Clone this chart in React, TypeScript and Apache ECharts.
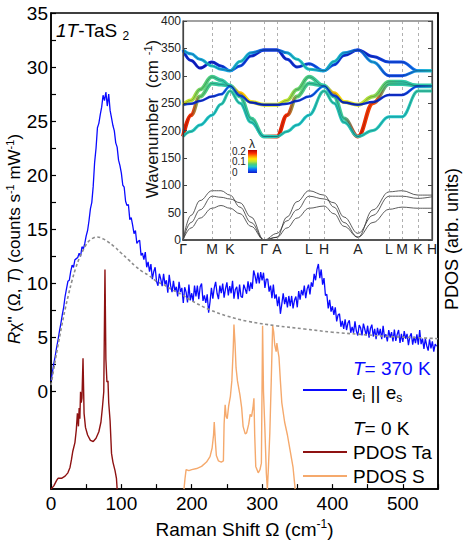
import React, { useEffect, useRef } from "react";
import * as echarts from "echarts";

// ---------- main panel data ----------
const RAMAN_SHIFT = [
  0,2,4,6,8,10,12,14,16,18, 20,22,24,26,28,30,32,34,36,38,
  40,42,44,46,48,50,52,54,56,58, 60,62,64,66,68,70,72,74,76,78,
  80,82,84,86,88,90,92,94,96,98, 100,102,104,106,108,110,112,114,116,118,
  120,122,124,126,128,130,132,134,136,138, 140,142,144,146,148,150,152,154,156,158,
  160,162,164,166,168,170,172,174,176,178, 180,182,184,186,188,190,192,194,196,198,
  200,202,204,206,208,210,212,214,216,218, 220,222,224,226,228,230,232,234,236,238,
  240,242,244,246,248,250,252,254,256,258, 260,262,264,266,268,270,272,274,276,278,
  280,282,284,286,288,290,292,294,296,298, 300,302,304,306,308,310,312,314,316,318,
  320,322,324,326,328,330,332,334,336,338, 340,342,344,346,348,350,352,354,356,358,
  360,362,364,366,368,370,372,374,376,378, 380,382,384,386,388,390,392,394,396,398,
  400,402,404,406,408,410,412,414,416,418, 420,422,424,426,428,430,432,434,436,438,
  440,442,444,446,448,450,452,454,456,458, 460,462,464,466,468,470,472,474,476,478,
  480,482,484,486,488,490,492,494,496,498, 500,502,504,506,508,510,512,514,516,518,
  520,522,524,526,528,530,532,534,536,538, 540,542,544,546,548,
];
const RAMAN_INTENSITY = [
  1.0,1.8,2.6,3.3,4.1,4.8,5.6,6.3,7.1,7.8, 8.8,9.5,10.2,10.3,11.1,11.7,11.5,12.2,12.3,12.4,
  12.8,12.5,13.4,13.2,13.7,14.4,14.9,15.8,16.9,17.5, 19.0,21.2,22.5,24.4,24.8,25.6,26.3,27.4,26.9,27.7,
  26.4,27.5,26.0,25.3,24.6,24.1,23.0,22.6,21.4,20.9, 20.2,19.1,18.9,17.6,17.2,17.3,15.9,16.1,15.4,14.6,
  14.9,13.7,13.9,14.0,12.6,12.8,12.2,12.9,11.5,12.0, 11.1,11.8,10.4,11.1,11.5,10.2,9.8,10.9,10.4,9.75,
  10.9,9.9,10.3,9.15,10.8,9.8,9.2,10.25,9.3,9.7, 8.8,10.15,9.2,9.6,8.2,9.65,9.2,8.25,9.9,8.45,
  9.1,8.35,9.8,8.8,9.8,8.55,9.7,10.0,8.4,8.9, 8.2,9.0,7.3,8.3,9.6,8.6,9.6,10.15,9.1,8.55,
  9.8,9.1,10.0,8.7,9.5,10.1,8.9,9.75,9.1,10.25, 8.6,9.45,9.7,8.55,9.9,8.8,8.7,9.9,9.5,9.05,
  10.2,9.3,10.1,9.5,11.2,10.7,10.0,11.0,10.0,11.05, 10.3,11.0,9.6,10.4,10.4,9.25,9.8,8.65,9.9,8.6,
  9.0,7.9,8.8,7.2,8.1,9.1,8.1,8.75,7.8,8.85, 7.9,8.85,7.7,8.45,8.8,7.8,9.3,8.5,9.4,8.9,
  9.8,8.65,9.5,9.9,9.0,10.1,9.7,10.9,10.3,11.3, 11.8,10.5,11.3,9.9,10.5,8.9,9.0,7.7,8.5,7.4,
  7.9,7.1,7.8,6.5,7.1,7.2,6.0,6.55,5.8,6.7, 5.7,6.35,6.6,5.45,6.0,5.45,6.5,5.6,5.2,6.15,
  5.9,5.2,6.3,5.75,5.2,6.1,5.0,5.85,6.2,5.1, 5.8,4.85,5.9,5.2,5.8,4.85,6.1,5.0,5.3,4.65,
  5.7,5.0,5.5,4.65,5.75,4.7,5.3,5.7,4.5,5.35, 4.6,5.6,4.9,5.35,4.3,5.1,5.4,4.35,5.1,4.5,
  5.3,4.35,5.7,4.4,4.9,3.95,4.9,4.25,3.8,4.85, 4.0,4.65,3.7,4.4,4.2,
];

const BG_SHIFT = [0,5,10,15,20,25,30,35,40,45,50,55,60,65,70,75,80,90,100,110,120,130,140,150,160,170,185,200,225,250,280,320,360,400,440,480,520,550];
const BG_INTENSITY = [0.6,2.5,4.3,6.0,7.6,9.0,10.3,11.4,12.3,13.0,13.6,14.0,14.2,14.3,14.25,14.1,13.9,13.4,12.8,12.2,11.6,11.1,10.7,10.2,9.9,9.5,9.0,8.4,7.6,7.0,6.5,6.1,5.8,5.5,5.3,5.1,5.0,4.9];

// PDOS in arbitrary units (right axis)
const TA_SHIFT = [0,4,8,10,15,20,24,27,29,31,34,36,37.5,39,40,41,42,43,44,45.5,47,49,52,56,60,64,68,71,73,75,76.7,78,79.5,81,82,84,86,88,91,93,94];
const TA_PDOS = [0,0.3,0.8,1.0,1.0,1.2,1.5,2.0,2.7,3.5,4.3,5.5,7.0,5.8,7.5,6.5,9.0,8.0,8.4,12.1,7.0,5.7,5.0,4.5,4.4,4.7,5.3,6.2,7.5,9.0,20.3,12.0,9.9,10.0,8.0,6.3,3.3,2.5,1.7,1.0,0];
const S_SHIFT = [189,190.5,192,196,200,207,214,221,226,229,231,232,233.5,235,238,242,245,246,247.5,249,250.5,252.5,255,257,259,260,261.5,263,265,268.5,271,273,276,278,281,283,285,287,288.4,289.5,291,294.5,297,299,300.7,302,304,306,307.5,309,311,313,315,316.5,318,320,321,322.5,324,326,328,332,336,340,344,347];
const S_PDOS = [0,1.0,1.8,1.7,1.8,1.9,2.1,2.5,3.0,3.8,5.0,6.2,4.5,3.1,2.6,2.5,2.6,6.0,7.8,6.7,6.5,7.7,8.6,10.0,13.0,15.2,13.5,11.2,10.0,8.7,7.5,5.8,5.1,5.2,6.0,6.9,6.7,7.5,8.4,5.0,2.1,1.5,1.8,2.4,15.1,9.0,5.5,1.5,0.0,2.0,5.2,10.0,15.1,14.5,13.3,12.7,13.5,12.8,12.2,10.0,8.0,6.2,5.0,3.5,2.0,0.0];

const X_LABELS = [0,100,200,300,400,500];
const X_TICKS = [0,50,100,150,200,250,300,350,400,450,500,550];
const Y_LABELS = [0,5,10,15,20,25,30,35];
const Y_TICKS = [0,2.5,5,7.5,10,12.5,15,17.5,20,22.5,25,27.5,30,32.5,35];

// ---------- inset: phonon dispersion ----------
const K_POS = [0,29,47,81,94,126,141,175,206,219,235,249];
const K_LABELS = ["Γ","M","K","Γ","A","L","H","A","L","M","K","H"];
const BAND_X = [0,8,17,29,38,47,57,68,81,94,104,114,126,141,151,161,175,190,206,219,235,249];

const BAND_TOP_BLUE = [347,328,314,325,318,309,318,336,347,347,330,316,322,309,320,337,347,335,325,325,309,309];
const BAND_TOP_CYAN = [347,340,330,318,312,309,326,342,347,347,342,330,312,309,326,342,347,325,300,300,309,309];
const BAND_MID_BLUE = [247,249,254,262,266,281,264,251,247,247,249,254,262,281,264,251,247,252,265,265,281,281];
const BAND_MID_YELLOW = [247,255,275,298,292,281,268,252,247,247,255,275,298,281,268,252,247,262,289,289,281,281];
const BAND_LOW_RED = [189,228,262,286,284,282,262,222,189,189,228,262,286,282,262,222,189,250,285,285,282,282];
const BAND_LOW_GREEN = [189,198,210,228,248,272,250,215,189,189,198,210,228,272,250,215,189,200,225,225,272,272];

const LAMBDA_TOP_BLUE = [0.01,0.005,0,0.005,0.01,0.03,0.02,0.01,0,0,0.01,0.01,0.02,0.03,0.02,0.01,0,0.01,0.02,0.02,0.04,0.05];
const LAMBDA_TOP_CYAN = [0.05,0.05,0.05,0.06,0.05,0.05,0.06,0.05,0.02,0.02,0.05,0.06,0.06,0.05,0.06,0.05,0.02,0.05,0.02,0.02,0.05,0.06];
const LAMBDA_MID_BLUE = [0.02,0.01,0.01,0.01,0.02,0.04,0.02,0.01,0.01,0.01,0.01,0.01,0.02,0.04,0.02,0.01,0.01,0.01,0.01,0.01,0.03,0.05];
const LAMBDA_MID_YELLOW = [0.12,0.11,0.09,0.08,0.07,0.07,0.15,0.13,0.12,0.12,0.11,0.09,0.08,0.07,0.15,0.13,0.12,0.1,0.08,0.07,0.07,0.07];
const LAMBDA_LOW_RED = [0.2,0.19,0.09,0.075,0.07,0.07,0.075,0.075,0.075,0.2,0.19,0.09,0.075,0.07,0.075,0.075,0.2,0.18,0.075,0.07,0.07,0.07];
const LAMBDA_LOW_GREEN = [0.065,0.065,0.06,0.06,0.065,0.07,0.065,0.065,0.065,0.065,0.065,0.06,0.06,0.07,0.065,0.065,0.065,0.065,0.06,0.06,0.07,0.07];

const ACOUSTIC_1 = [0,45,72,90,90,82,60,32,0,5,42,70,90,82,60,32,5,55,88,90,82,82];
const ACOUSTIC_2 = [0,32,55,80,78,75,68,42,0,12,35,55,80,75,68,42,12,45,80,80,76,79];
const ACOUSTIC_3 = [0,22,40,58,63,58,48,25,0,5,22,40,58,62,48,25,5,32,56,60,58,58];

const LAMBDA_TICKS = [0, 0.1, 0.2];

const FONT = "'Liberation Sans', Arial, Helvetica, sans-serif";

const JET: [number, number[]][] = [
  [0.0, [16, 24, 200]],
  [0.035, [10, 110, 255]],
  [0.06, [30, 200, 200]],
  [0.085, [80, 205, 120]],
  [0.11, [190, 228, 50]],
  [0.135, [255, 230, 0]],
  [0.16, [255, 150, 0]],
  [0.185, [255, 50, 0]],
  [0.22, [180, 0, 0]],
];
function lambdaColor(l: number): string {
  if (l <= JET[0][0]) return `rgb(${JET[0][1].join(",")})`;
  for (let i = 1; i < JET.length; i++) {
    if (l <= JET[i][0]) {
      const [a, ca] = JET[i - 1];
      const [b, cb] = JET[i];
      const t = (l - a) / (b - a);
      const c = ca.map((v, k) => Math.round(v + (cb[k] - v) * t));
      return `rgb(${c.join(",")})`;
    }
  }
  return `rgb(${JET[JET.length - 1][1].join(",")})`;
}

function bandGradient(lam: number[]) {
  const x0 = BAND_X[0];
  const x1 = BAND_X[BAND_X.length - 1];
  return new echarts.graphic.LinearGradient(
    0, 0, 1, 0,
    BAND_X.map((x, i) => ({ offset: (x - x0) / (x1 - x0), color: lambdaColor(lam[i]) }))
  );
}

const zip = (xs: number[], ys: number[]) => xs.map((x, i) => [x, ys[i]]);

export default function App() {
  const ref = useRef<HTMLDivElement>(null);
  useEffect(() => {
    if (!ref.current) return;
    const chart = echarts.init(ref.current, undefined, { renderer: "svg" });

    const optical: [number[], number[], number][] = [
      [BAND_TOP_BLUE, LAMBDA_TOP_BLUE, 3],
      [BAND_TOP_CYAN, LAMBDA_TOP_CYAN, 3],
      [BAND_LOW_RED, LAMBDA_LOW_RED, 4],
      [BAND_LOW_GREEN, LAMBDA_LOW_GREEN, 3],
      [BAND_MID_YELLOW, LAMBDA_MID_YELLOW, 4],
      [BAND_MID_BLUE, LAMBDA_MID_BLUE, 2.5],
    ];

    const insetSeries: any[] = [];
    [ACOUSTIC_1, ACOUSTIC_2, ACOUSTIC_3].forEach((b, i) => {
      insetSeries.push({
        type: "line", xAxisIndex: 1, yAxisIndex: 2,
        data: zip(BAND_X, b), smooth: 0.4, smoothMonotone: "x",
        symbol: "none", silent: true, z: 4,
        lineStyle: { color: "#333", width: 0.8 },
        markLine: i === 0 ? {
          silent: true, symbol: ["none", "none"], label: { show: false },
          lineStyle: { type: [3, 3], color: "#9a9a9a", width: 0.8 },
          data: K_POS.slice(1, -1).map((x) => ({ xAxis: x })),
        } : undefined,
      });
    });
    optical.forEach(([b, lam, w]) => {
      insetSeries.push({
        type: "line", xAxisIndex: 1, yAxisIndex: 2,
        data: zip(BAND_X, b), smooth: 0.4, smoothMonotone: "x",
        symbol: "none", silent: true, z: 5,
        lineStyle: { color: bandGradient(lam), width: w },
      });
    });
    optical.forEach(([b]) => {
      insetSeries.push({
        type: "line", xAxisIndex: 1, yAxisIndex: 2,
        data: zip(BAND_X, b), smooth: 0.4, smoothMonotone: "x",
        symbol: "none", silent: true, z: 6,
        lineStyle: { color: "rgba(20,20,40,0.45)", width: 0.6 },
      });
    });

    const supRich = (fs: number) => ({
      sup: { fontSize: Math.round(fs * 0.63), lineHeight: Math.round(fs * 0.63), verticalAlign: "top", fontFamily: FONT },
      it: { fontStyle: "italic", fontSize: fs, lineHeight: fs + 3, fontFamily: FONT },
    });
    const subStyle = { fontSize: 12, lineHeight: 12, verticalAlign: "bottom", fontFamily: FONT };

    const cbX = 248, cbY = 150, cbW = 9, cbH = 23;

    const option: any = {
      animation: false,
      textStyle: { fontFamily: FONT },
      grid: [
        { left: 51, right: 25, top: 13, bottom: 49, show: true, borderColor: "#000", borderWidth: 1.5 },
        { left: 183, right: 31, top: 21, bottom: 305, show: true, borderColor: "#444", borderWidth: 1.2, backgroundColor: "#fff", z: 3 },
      ],
      xAxis: [
        {
          type: "value", gridIndex: 0, min: 0, max: 550,
          axisLine: { onZero: false, lineStyle: { color: "#000", width: 1.5 } },
          axisTick: { inside: true, length: 5, customValues: X_TICKS, lineStyle: { color: "#000", width: 1.2 } },
          axisLabel: { customValues: X_LABELS, fontSize: 19, color: "#000", margin: 5, fontFamily: FONT },
          splitLine: { show: false },
          name: "Raman Shift Ω (cm{sup|-1})", nameLocation: "middle", nameGap: 24,
          nameTextStyle: { fontSize: 19, color: "#000", lineHeight: 22, fontFamily: FONT, rich: supRich(19) },
        },
        {
          type: "value", gridIndex: 1, min: 0, max: 249, z: 6,
          axisLine: { onZero: false, lineStyle: { color: "#555", width: 2 } },
          axisTick: { show: false },
          axisLabel: {
            customValues: K_POS, fontSize: 14, color: "#222", margin: 2, fontFamily: FONT,
            showMinLabel: true, showMaxLabel: true,
            formatter: (v: number) => { const i = K_POS.indexOf(v); return i >= 0 ? K_LABELS[i] : ""; },
          },
          splitLine: { show: false },
        },
      ],
      yAxis: [
        {
          type: "value", gridIndex: 0, min: -9, max: 35,
          axisLine: { onZero: false, lineStyle: { color: "#000", width: 1.5 } },
          axisTick: { inside: true, length: 5, customValues: Y_TICKS, lineStyle: { color: "#000", width: 1.2 } },
          axisLabel: { customValues: Y_LABELS, fontSize: 19, color: "#000", margin: 3, fontFamily: FONT },
          splitLine: { show: false },
        },
        {
          type: "value", gridIndex: 0, min: 0, max: 44, position: "right",
          axisLine: { show: true, onZero: false, lineStyle: { color: "#000", width: 1.5 } },
          axisTick: { show: false }, axisLabel: { show: false }, splitLine: { show: false },
        },
        {
          type: "value", gridIndex: 1, min: 0, max: 400, interval: 50, z: 6,
          axisLine: { onZero: false, lineStyle: { color: "#444", width: 1.2 } },
          axisTick: { inside: true, length: 4, lineStyle: { color: "#444" } },
          axisLabel: { fontSize: 12, color: "#222", margin: 2, fontFamily: FONT },
          splitLine: { show: false },
        },
        {
          type: "value", gridIndex: 1, min: 0, max: 400, interval: 50, position: "right", z: 6,
          axisLine: { show: true, onZero: false, lineStyle: { color: "#444", width: 1.2 } },
          axisTick: { inside: true, length: 4, lineStyle: { color: "#444" } },
          axisLabel: { show: false }, splitLine: { show: false },
        },
      ],
      series: [
        {
          type: "line", xAxisIndex: 0, yAxisIndex: 1, data: zip(TA_SHIFT, TA_PDOS),
          symbol: "none", silent: true, z: 2, lineStyle: { color: "#8e1212", width: 1.4 },
        },
        {
          type: "line", xAxisIndex: 0, yAxisIndex: 1, data: zip(S_SHIFT, S_PDOS),
          symbol: "none", silent: true, z: 2, lineStyle: { color: "#f5a96c", width: 1.4 },
        },
        {
          type: "line", xAxisIndex: 0, yAxisIndex: 0, data: zip(RAMAN_SHIFT, RAMAN_INTENSITY),
          symbol: "none", silent: true, z: 2, lineStyle: { color: "#0a0aff", width: 1.3 },
        },
        {
          type: "line", xAxisIndex: 0, yAxisIndex: 0, data: zip(BG_SHIFT, BG_INTENSITY),
          smooth: 0.4, symbol: "none", silent: true, z: 3,
          lineStyle: { color: "#8c8c8c", width: 1.6, type: [3, 2.5] },
        },
        ...insetSeries,
      ],
      graphic: [
        {
          type: "text", x: 56, y: 30, z: 10,
          style: {
            text: "{it|1T}-TaS {sub|2}", fontSize: 19, lineHeight: 24, fill: "#000", fontFamily: FONT, verticalAlign: "middle",
            rich: {
              it: { fontStyle: "italic", fontSize: 19, lineHeight: 24, fontFamily: FONT },
              sub: subStyle,
            },
          },
        },
        {
          type: "text", x: 14, y: 239, rotation: Math.PI / 2, z: 10,
          style: {
            text: "{it|R}χ'' (Ω, {it|T}) (counts s{sup|-1} mW{sup|-1})",
            fontSize: 17, lineHeight: 20, fill: "#000", fontFamily: FONT,
            align: "center", verticalAlign: "middle", rich: supRich(17),
          },
        },
        {
          type: "text", x: 452, y: 239, rotation: Math.PI / 2, z: 10,
          style: {
            text: "PDOS (arb. units)", fontSize: 18, fill: "#000", fontFamily: FONT,
            align: "center", verticalAlign: "middle",
          },
        },
        {
          type: "text", x: 152, y: 119, rotation: Math.PI / 2, z: 10,
          style: {
            text: "Wavenumber  (cm {sup|-1})", fontSize: 17, lineHeight: 20, fill: "#111", fontFamily: FONT,
            align: "center", verticalAlign: "middle",
            rich: { sup: { fontSize: 11, lineHeight: 11, verticalAlign: "top", fontFamily: FONT } },
          },
        },
        {
          type: "rect", z: 10,
          shape: { x: cbX, y: cbY, width: cbW, height: cbH },
          style: {
            fill: new echarts.graphic.LinearGradient(0, 1, 0, 0,
              [0, 0.035, 0.06, 0.085, 0.11, 0.135, 0.16, 0.185, 0.22].map((l) => ({ offset: l / 0.22, color: lambdaColor(l) }))),
          },
        },
        ...LAMBDA_TICKS.map((l) => ({
          type: "text", z: 10, x: 232, y: cbY + cbH - (l / 0.22) * cbH - 1,
          style: { text: String(l), fontSize: 10, fill: "#222", fontFamily: FONT, align: "left", verticalAlign: "middle" },
        })),
        {
          type: "text", z: 10, x: 252, y: 144,
          style: { text: "λ", fontSize: 12, fill: "#222", fontFamily: FONT, align: "center", verticalAlign: "middle" },
        },
        // legend
        {
          type: "text", z: 10, x: 353, y: 368,
          style: {
            text: "{it|T}= 370 K", fontSize: 19, lineHeight: 22, fill: "#0a0aff", fontFamily: FONT, verticalAlign: "middle",
            rich: { it: { fontStyle: "italic", fontSize: 19, lineHeight: 22, fill: "#0a0aff", fontFamily: FONT } },
          },
        },
        { type: "line", z: 10, shape: { x1: 303, y1: 390, x2: 347, y2: 390 }, style: { stroke: "#0a0aff", lineWidth: 2 } },
        {
          type: "text", z: 10, x: 352, y: 392,
          style: {
            text: "e{sub|i} || e{sub|s}", fontSize: 19, lineHeight: 24, fill: "#000", fontFamily: FONT, verticalAlign: "middle",
            rich: { sub: subStyle },
          },
        },
        {
          type: "text", z: 10, x: 353, y: 428,
          style: {
            text: "{it|T}= 0 K", fontSize: 19, lineHeight: 22, fill: "#000", fontFamily: FONT, verticalAlign: "middle",
            rich: { it: { fontStyle: "italic", fontSize: 19, lineHeight: 22, fontFamily: FONT } },
          },
        },
        { type: "line", z: 10, shape: { x1: 303, y1: 452, x2: 347, y2: 452 }, style: { stroke: "#8e1212", lineWidth: 2 } },
        { type: "text", z: 10, x: 353, y: 452, style: { text: "PDOS Ta", fontSize: 19, fill: "#000", fontFamily: FONT, verticalAlign: "middle" } },
        { type: "line", z: 10, shape: { x1: 303, y1: 476, x2: 347, y2: 476 }, style: { stroke: "#f5a96c", lineWidth: 2 } },
        { type: "text", z: 10, x: 353, y: 476, style: { text: "PDOS S", fontSize: 19, fill: "#000", fontFamily: FONT, verticalAlign: "middle" } },
      ],
    };
    chart.setOption(option);
    return () => chart.dispose();
  }, []);
  return <div ref={ref} style={{ position: "absolute", left: 0, top: 0, width: 463, height: 545 }} />;
}
